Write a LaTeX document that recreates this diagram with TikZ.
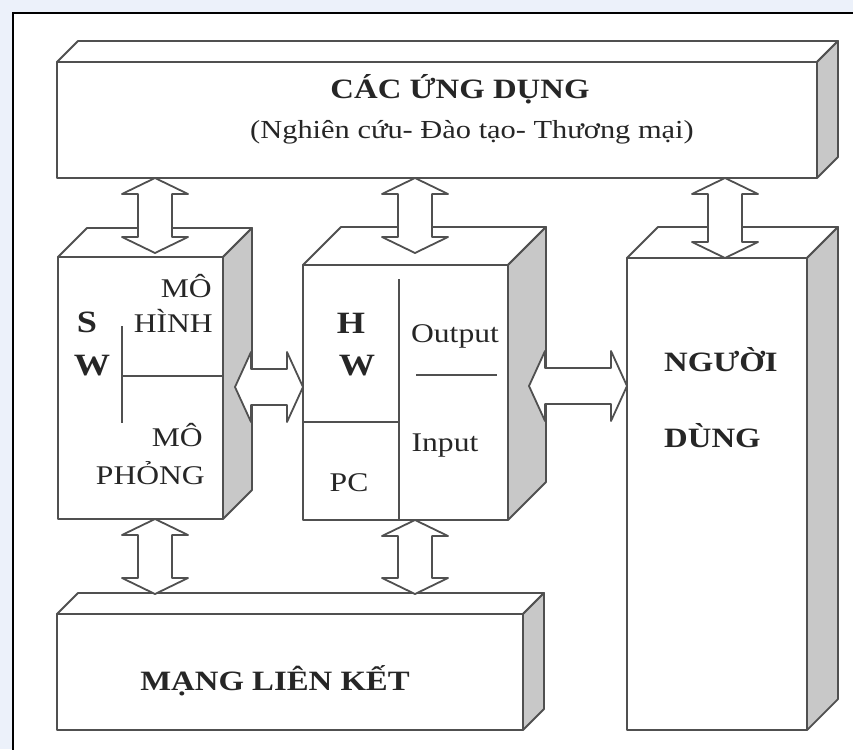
\documentclass[tikz,border=0pt]{standalone}
\usepackage{fontspec}
\setmainfont{Liberation Serif}
\usepackage{graphicx}
\usetikzlibrary{calc}
\definecolor{bgblue}{RGB}{236,241,250}
\definecolor{edge}{RGB}{80,80,80}
\definecolor{sidegray}{RGB}{200,200,200}
\newcommand\wtext[1]{\scalebox{1.17}[1]{#1}}
\newcommand\fs[1]{\fontsize{#1}{#1}\selectfont}
\newcommand\extrude[2]{%
  \draw[edgeline, fill=white] (#1.north west) -- ++(#2,-#2) -- ([shift={(#2,-#2)}]#1.north east) -- (#1.north east) -- cycle;
  \draw[edgeline, fill=sidegray] (#1.north east) -- ++(#2,-#2) -- ([shift={(#2,-#2)}]#1.south east) -- (#1.south east) -- cycle;
}
\newcommand\vdarrow[2]{%
  \draw[edgeline, fill=white] let \p1=(#1), \p2=(#2) in
   (\x1,\y1) -- (\x1+33pt,\y1-16pt) -- (\x1+17pt,\y1-16pt) -- (\x1+17pt,\y2+16pt)
   -- (\x1+33pt,\y2+16pt) -- (\x1,\y2) -- (\x1-33pt,\y2+16pt) -- (\x1-17pt,\y2+16pt)
   -- (\x1-17pt,\y1-16pt) -- (\x1-33pt,\y1-16pt) -- cycle;
}
\newcommand\hdarrow[2]{%
  \draw[edgeline, fill=white] let \p1=(#1), \p2=(#2) in
   (\x1,\y1) -- (\x1+16pt,\y1+35pt) -- (\x1+16pt,\y1+18pt) -- (\x2-16pt,\y1+18pt)
   -- (\x2-16pt,\y1+35pt) -- (\x2,\y1) -- (\x2-16pt,\y1-35pt) -- (\x2-16pt,\y1-18pt)
   -- (\x1+16pt,\y1-18pt) -- (\x1+16pt,\y1-35pt) -- cycle;
}
\begin{document}
\begin{tikzpicture}[x=1pt,y=-1pt,
  edgeline/.style={draw=edge, line width=1.8pt, line join=round},
  front/.style={edgeline, fill=white, rectangle, inner sep=0pt, outer sep=0pt, anchor=north west},
  lbl/.style={inner sep=0pt, text=black!85}
]
\useasboundingbox (0,0) rectangle (853,749);
\fill[bgblue] (0,0) rectangle (853,749);
\fill[white] (13,13) rectangle (870,770);
\draw[black, line width=1.8pt] (13,770) -- (13,13) -- (870,13);

% boxes (front faces)
\node[front, minimum width=760pt, minimum height=116pt] (app) at (57,62) {};
\extrude{app}{21}
\node[front, minimum width=165pt, minimum height=262pt] (sw) at (58,257) {};
\extrude{sw}{29}
\node[front, minimum width=205pt, minimum height=255pt] (hw) at (303,265) {};
\extrude{hw}{38}
\node[front, minimum width=180pt, minimum height=472pt] (user) at (627,258) {};
\extrude{user}{31}
\node[front, minimum width=466pt, minimum height=116pt] (net) at (57,614) {};
\extrude{net}{21}

% inner dividers
\draw[edgeline] (122,326) -- (122,423);
\draw[edgeline] (122,376) -- (sw.east |- 0,376);
\draw[edgeline] (399,279) -- (hw.south -| 399,0);
\draw[edgeline] (hw.west |- 0,422) -- (399,422);
\draw[edgeline] (416,375) -- (497,375);

% connector end points
\coordinate (a1t) at (155,0 |- app.south);
\coordinate (a1b) at (155,253);
\coordinate (a2t) at (415,0 |- app.south);
\coordinate (a2b) at (415,253);
\coordinate (a3t) at (725,0 |- app.south);
\coordinate (a3b) at (725,0 |- user.north);
\coordinate (b1t) at (155,0 |- sw.south);
\coordinate (b1b) at (155,594);
\coordinate (b2t) at (415,0 |- hw.south);
\coordinate (b2b) at (415,594);
\coordinate (h1l) at (235,387);
\coordinate (h1r) at (hw.west |- 0,387);
\coordinate (h2l) at (529,386);
\coordinate (h2r) at (user.west |- 0,386);

\vdarrow{a1t}{a1b}
\vdarrow{a2t}{a2b}
\vdarrow{a3t}{a3b}
\vdarrow{b1t}{b1b}
\vdarrow{b2t}{b2b}
\hdarrow{h1l}{h1r}
\hdarrow{h2l}{h2r}

% texts
\node[lbl, anchor=base, font=\fs{28}\bfseries] (t1) at (460,99) {\wtext{CÁC ỨNG DỤNG}};
\node[lbl, anchor=base, font=\fs{26}] (t2) at (472,139) {\wtext{(Nghiên cứu- Đào tạo- Thương mại)}};
\node[lbl, anchor=base, font=\fs{31}\bfseries] (s1) at (87,332) {\wtext{S}};
\node[lbl, anchor=base, font=\fs{31}\bfseries] (s2) at (92,375) {\wtext{W}};
\node[lbl, anchor=base east, font=\fs{27}] (m1) at (212,297) {\wtext{MÔ}};
\node[lbl, anchor=base east, font=\fs{27}] (m2) at (213,332) {\wtext{HÌNH}};
\node[lbl, anchor=base east, font=\fs{27}] (m3) at (203,446) {\wtext{MÔ}};
\node[lbl, anchor=base east, font=\fs{27}] (m4) at (205,484) {\wtext{PHỎNG}};
\node[lbl, anchor=base, font=\fs{31}\bfseries] (h1) at (351,333) {\wtext{H}};
\node[lbl, anchor=base, font=\fs{31}\bfseries] (h2) at (357,375) {\wtext{W}};
\node[lbl, anchor=base, font=\fs{27}] (o1) at (455,342) {\wtext{Output}};
\node[lbl, anchor=base, font=\fs{27}] (i1) at (445,451) {\wtext{Input}};
\node[lbl, anchor=base, font=\fs{27}] (p1) at (349,491) {\wtext{PC}};
\node[lbl, anchor=base west, font=\fs{28}\bfseries] (u1) at (664,371) {\wtext{NGƯỜI}};
\node[lbl, anchor=base west, font=\fs{28}\bfseries] (u2) at (664,447) {\wtext{DÙNG}};
\node[lbl, anchor=base, font=\fs{28}\bfseries] (n1) at (275,690) {\wtext{MẠNG LIÊN KẾT}};
\end{tikzpicture}
\end{document}
